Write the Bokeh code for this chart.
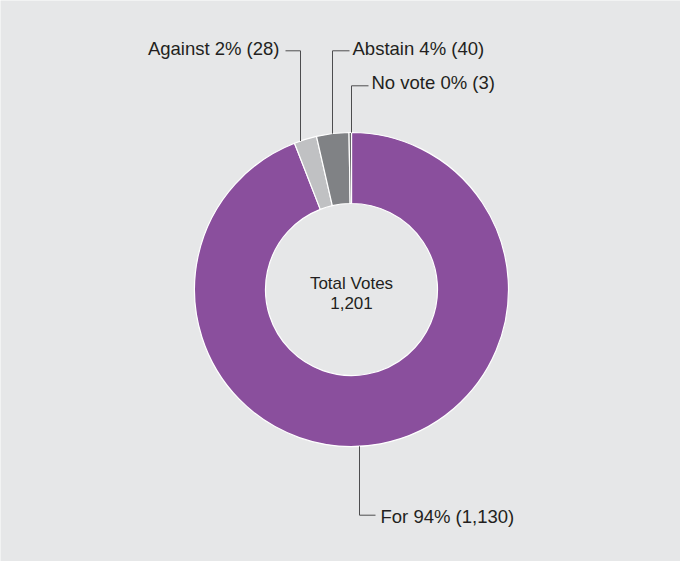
import math
from bokeh.plotting import figure
from bokeh.models import Range1d, ColumnDataSource
from bokeh.embed import file_html
from bokeh.resources import INLINE
from bokeh.core.properties import value

# ---- data ----
categories = ["For", "Against", "Abstain", "No vote"]
votes = [1130, 28, 40, 3]
pct_labels = [94, 2, 4, 0]
center_title = "Total Votes"

# ---- style ----
colors = ["#8a4f9d", "#c0c1c3", "#808285", "#58595b"]
BG = "#e6e7e8"
CREAM = "#faf6e3"
TXT = "#231f20"
LEAD = "#4d4d4f"
R_OUT, R_IN = 157, 86
FONT = "Liberation Sans"

# leader layout (annotation styling, relative to pie centre, px)
leader_dx = [8, -51, -19, 0]
leader_y = [-225.7, 238.7, 238.7, 203.7]
leader_dir = [1, -1, 1, 1]
leader_arm = [16, 15, 17, 17]
text_gap = [5, 6, 3, 3]
text_mid = [-227, 241.5, 241.5, 207.3]

total = sum(votes)
cum = [0]
for v in votes:
    cum.append(cum[-1] + v)
start = [math.pi / 2 - 2 * math.pi * cum[i + 1] / total for i in range(len(votes))]
end = [math.pi / 2 - 2 * math.pi * cum[i] / total for i in range(len(votes))]
mid = [(s + e) / 2 for s, e in zip(start, end)]

p = figure(width=680, height=561, output_backend="svg", toolbar_location=None,
           x_range=Range1d(-351, 329), y_range=Range1d(-272, 289),
           min_border=0, min_border_left=0, min_border_right=0,
           min_border_top=0, min_border_bottom=0)
p.background_fill_color = BG
p.border_fill_color = BG
p.outline_line_color = None
p.xaxis.visible = False
p.yaxis.visible = False
p.xgrid.visible = False
p.ygrid.visible = False

src = ColumnDataSource(dict(cat=categories, v=votes, start=start, end=end, color=colors))
p.annular_wedge(x=0, y=0, inner_radius=R_IN, outer_radius=R_OUT,
                start_angle="start", end_angle="end", direction="anticlock",
                fill_color="color", line_color="white", line_width=1.2, source=src)

xs, ys = [], []
tx, ty, tt, ta = [], [], [], []
for i, cat in enumerate(categories):
    dx = leader_dx[i]
    side = 1 if math.sin(mid[i]) >= 0 else -1
    ring_y = side * math.sqrt(R_OUT ** 2 - dx ** 2)
    ly = leader_y[i]
    hx = dx + leader_dir[i] * leader_arm[i]
    xs.append([dx, dx, hx])
    ys.append([ring_y, ly, ly])
    tx.append(hx + leader_dir[i] * text_gap[i])
    ty.append(text_mid[i])
    tt.append(f"{cat} {pct_labels[i]}% ({votes[i]:,})")
    ta.append("left" if leader_dir[i] > 0 else "right")

p.multi_line(xs=xs, ys=ys, line_color=LEAD, line_width=1)

lab = ColumnDataSource(dict(x=tx, y=ty, t=tt, a=ta))
p.text(x="x", y="y", text="t", text_align="a", text_baseline="middle",
       text_font=value(FONT), text_font_size="18.5px", text_color=TXT, source=lab)

p.text(x=[0, 0], y=[6, -13], text=[center_title, f"{total:,}"],
       text_align="center", text_baseline="middle",
       text_font=value(FONT), text_font_size="17px", text_color=TXT)

html = file_html(p, INLINE)
body_style = ('<body style="margin:8px;background:'
              'linear-gradient(to bottom,%s 5px,#59595b 5px,#59595b 7px,transparent 7px) no-repeat,'
              'linear-gradient(to right,%s 11px,%s 11px,%s 692px,%s 692px);'
              'min-height:561px;">' % (CREAM, CREAM, BG, BG, CREAM))
html = html.replace("<body>", body_style, 1)
open("out.html", "w").write(html)
